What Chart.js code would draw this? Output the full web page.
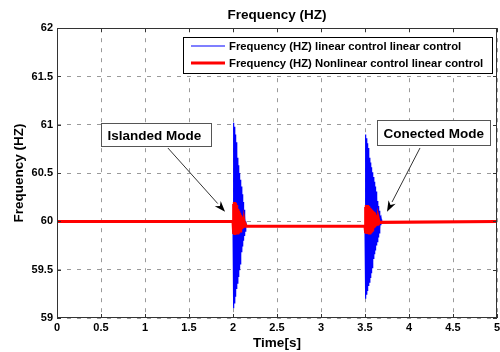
<!DOCTYPE html>
<html>
<head>
<meta charset="utf-8">
<title>Frequency (HZ)</title>
<script src="https://cdn.jsdelivr.net/npm/chart.js@4.4.1/dist/chart.umd.min.js"></script>
<style>
  html, body { margin: 0; padding: 0; background: #fff; }
  #wrap { width: 500px; height: 352px; }
</style>
</head>
<body>
<div id="wrap"><canvas id="freqChart" width="500" height="352"></canvas></div>
<script>
// Frecuencia de la red con control lineal y no lineal (modo isla a t=2 s, reconexión a t=3.5 s)
const xTicks = [0, 0.5, 1, 1.5, 2, 2.5, 3, 3.5, 4, 4.5, 5];
const yTicks = [59, 59.5, 60, 60.5, 61, 61.5, 62];

const seriesNames = [
    'Frequency (HZ) linear control linear control',
    'Frequency (HZ) Nonlinear control linear control'
];

// control lineal
const blueTime = [
    0,
    2.000, 2.005, 2.010, 2.015, 2.020, 2.025, 2.030, 2.035, 2.040, 2.045,
    2.050, 2.055, 2.060, 2.065, 2.070, 2.075, 2.080, 2.085, 2.090, 2.095,
    2.100, 2.105, 2.110, 2.115, 2.120, 2.125, 2.130, 2.135, 2.140, 2.145, 2.150,
    3.500, 3.505, 3.510, 3.515, 3.520, 3.525, 3.530, 3.535, 3.540, 3.545,
    3.550, 3.555, 3.560, 3.565, 3.570, 3.575, 3.580, 3.585, 3.590, 3.595,
    3.600, 3.605, 3.610, 3.615, 3.620, 3.625, 3.630, 3.635, 3.640, 3.645,
    3.650, 3.655, 3.660, 3.665, 3.670, 3.675, 3.680, 3.685, 3.690,
    5
];
const blueHz = [
    60,
    60.00, 61.02, 59.10, 60.98, 59.15, 60.90, 59.22, 60.82, 59.30, 60.74,
    59.36, 60.66, 59.43, 60.58, 59.50, 60.50, 59.56, 60.43, 59.62, 60.36,
    59.68, 60.28, 59.74, 60.20, 59.80, 60.12, 59.85, 60.06, 59.90, 60.00, 59.95,
    59.95, 60.90, 59.20, 60.86, 59.24, 60.81, 59.28, 60.76, 59.33, 60.71,
    59.37, 60.66, 59.42, 60.61, 59.47, 60.56, 59.52, 60.51, 59.56, 60.46,
    59.61, 60.41, 59.66, 60.36, 59.70, 60.31, 59.75, 60.26, 59.79, 60.21,
    59.84, 60.16, 59.88, 60.11, 59.92, 60.06, 59.96, 60.02, 59.99,
    60
];

// control no lineal
const redTime = [
    0,
    2.000, 2.005, 2.010, 2.015, 2.020, 2.025, 2.030, 2.035, 2.040, 2.045,
    2.050, 2.055, 2.060, 2.065, 2.070, 2.075, 2.080, 2.085, 2.090, 2.095,
    2.100, 2.105, 2.110, 2.115, 2.120, 2.125, 2.130, 2.135, 2.140, 2.145, 2.150,
    3.500, 3.505, 3.510, 3.515, 3.520, 3.525, 3.530, 3.535, 3.540, 3.545,
    3.550, 3.555, 3.560, 3.565, 3.570, 3.575, 3.580, 3.585, 3.590, 3.595,
    3.600, 3.605, 3.610, 3.615, 3.620, 3.625, 3.630, 3.635, 3.640, 3.645,
    3.650, 3.655, 3.660,
    5
];
const redHz = [
    60,
    60.00, 60.18, 59.87, 60.20, 59.86, 60.19, 59.87, 60.17, 59.88, 60.15,
    59.88, 60.13, 59.89, 60.11, 59.90, 60.09, 59.90, 60.07, 59.91, 60.05,
    59.92, 60.03, 59.93, 60.01, 59.94, 59.99, 59.94, 59.97, 59.95, 59.96, 59.95,
    59.95, 60.15, 59.88, 60.17, 59.87, 60.17, 59.87, 60.16, 59.88, 60.15,
    59.88, 60.14, 59.89, 60.13, 59.90, 60.12, 59.91, 60.11, 59.92, 60.10,
    59.93, 60.09, 59.94, 60.07, 59.95, 60.05, 59.96, 60.04, 59.97, 60.02,
    59.98, 60.01, 59.99,
    60
];

const FONT = "'Liberation Sans', Arial, Helvetica, sans-serif";
Chart.defaults.color = '#000';
Chart.defaults.font.family = FONT;
Chart.defaults.font.weight = 'bold';

const toPoints = (xs, ys) => xs.map((t, i) => ({ x: t, y: ys[i] }));

// etiquetas con flecha
const notes = [
    { text: 'Islanded Mode', box: [0.5, 61.02], w: 110, h: 23, tail: [1.26, 60.76], tip: [1.91, 60.10] },
    { text: 'Conected Mode', box: [3.636, 61.05], w: 113, h: 25, tail: [4.125, 60.76], tip: [3.75, 60.10] }
];

// marco estilo matlab: caja, ticks hacia dentro, leyenda y anotaciones
const matlabFrame = {
    id: 'matlabFrame',
    afterDatasetsDraw(chart) {
        const { ctx, scales: { x, y } } = chart;
        ctx.save();
        ctx.setLineDash([]);

        // anotaciones
        ctx.font = 'bold 13.5px ' + FONT;
        ctx.textBaseline = 'middle';
        ctx.textAlign = 'left';
        notes.forEach(n => {
            const bx = Math.round(x.getPixelForValue(n.box[0])) + 0.5;
            const by = Math.round(y.getPixelForValue(n.box[1])) + 0.5;
            ctx.fillStyle = '#fff';
            ctx.fillRect(bx, by, n.w, n.h);
            ctx.strokeStyle = '#555';
            ctx.lineWidth = 1;
            ctx.strokeRect(bx, by, n.w, n.h);
            ctx.fillStyle = '#000';
            ctx.fillText(n.text, bx + 6, by + n.h / 2 + 1);

            const x0 = x.getPixelForValue(n.tail[0]), y0 = y.getPixelForValue(n.tail[1]);
            const x1 = x.getPixelForValue(n.tip[0]), y1 = y.getPixelForValue(n.tip[1]);
            const ang = Math.atan2(y1 - y0, x1 - x0);
            const len = 11, half = 4;
            const bxA = x1 - len * Math.cos(ang), byA = y1 - len * Math.sin(ang);
            ctx.strokeStyle = '#333';
            ctx.beginPath();
            ctx.moveTo(x0, y0);
            ctx.lineTo(bxA, byA);
            ctx.stroke();
            ctx.fillStyle = '#000';
            ctx.beginPath();
            ctx.moveTo(x1, y1);
            ctx.lineTo(bxA + half * Math.sin(ang), byA - half * Math.cos(ang));
            ctx.lineTo(x1 - 0.7 * len * Math.cos(ang), y1 - 0.7 * len * Math.sin(ang));
            ctx.lineTo(bxA - half * Math.sin(ang), byA + half * Math.cos(ang));
            ctx.closePath();
            ctx.fill();
        });

        // leyenda
        const lx = 183.5, ly = 37.5, lw = 309, lh = 36;
        ctx.fillStyle = '#fff';
        ctx.fillRect(lx, ly, lw, lh);
        ctx.strokeStyle = '#000';
        ctx.lineWidth = 1;
        ctx.strokeRect(lx, ly, lw, lh);
        ctx.font = 'bold 11.3px ' + FONT;
        chart.data.datasets.forEach((ds, i) => {
            const rowY = 46 + i * 17;
            ctx.strokeStyle = ds.borderColor;
            ctx.lineWidth = ds.borderWidth;
            ctx.beginPath();
            ctx.moveTo(191, rowY);
            ctx.lineTo(225, rowY);
            ctx.stroke();
            ctx.fillStyle = '#000';
            ctx.fillText(ds.label, 229, rowY + 1);
        });
        ctx.restore();
    },
    afterDraw(chart) {
        const { ctx, chartArea: a, scales: { x, y } } = chart;
        ctx.save();
        ctx.setLineDash([]);
        ctx.strokeStyle = '#333';
        ctx.lineWidth = 1;
        ctx.beginPath();
        x.ticks.forEach(t => {
            const px = Math.round(x.getPixelForValue(t.value)) + 0.5;
            ctx.moveTo(px, a.top); ctx.lineTo(px, a.top + 4);
            ctx.moveTo(px, a.bottom); ctx.lineTo(px, a.bottom - 4);
        });
        y.ticks.forEach(t => {
            const py = Math.round(y.getPixelForValue(t.value)) + 0.5;
            ctx.moveTo(a.left, py); ctx.lineTo(a.left + 4, py);
            ctx.moveTo(a.right, py); ctx.lineTo(a.right - 4, py);
        });
        ctx.stroke();
        ctx.strokeRect(Math.round(a.left) + 0.5, Math.round(a.top) + 0.5,
            Math.round(a.width) - 1, Math.round(a.height) - 1);
        ctx.restore();
    }
};

const ctx = document.getElementById('freqChart').getContext('2d');
new Chart(ctx, {
    type: 'line',
    data: {
        datasets: [
            {
                label: seriesNames[0],
                data: toPoints(blueTime, blueHz),
                borderColor: '#0000ff',
                borderWidth: 1.2,
                pointRadius: 0,
                tension: 0,
                order: 2
            },
            {
                label: seriesNames[1],
                data: toPoints(redTime, redHz),
                borderColor: '#ff0000',
                borderWidth: 3,
                pointRadius: 0,
                tension: 0,
                order: 1
            }
        ]
    },
    options: {
        responsive: false,
        animation: false,
        layout: { padding: { left: 0, right: 3, top: 0, bottom: 0 } },
        plugins: {
            legend: { display: false },
            tooltip: { enabled: false },
            title: {
                display: true,
                text: 'Frequency (HZ)',
                fullSize: false,
                font: { size: 13.5, weight: 'bold' },
                padding: { top: 7, bottom: 5 }
            }
        },
        scales: {
            x: {
                type: 'linear',
                min: 0,
                max: 5,
                afterBuildTicks: s => { s.ticks = xTicks.map(v => ({ value: v })); },
                afterFit: s => { s.height = 34; s.paddingLeft = 0; s.paddingRight = 0; },
                ticks: { padding: 3, font: { size: 11, weight: 'bold' }, maxRotation: 0, callback: v => String(v) },
                grid: { color: '#9a9a9a', drawTicks: false, tickLength: 0 },
                border: { display: false, dash: [4, 6] },
                title: {
                    display: true,
                    text: 'Time[s]',
                    font: { size: 13.5, weight: 'bold' },
                    padding: { top: 0, bottom: 1 }
                }
            },
            y: {
                min: 59,
                max: 62,
                afterBuildTicks: s => { s.ticks = yTicks.map(v => ({ value: v })); },
                afterFit: s => { s.width = 57; s.paddingTop = 0; s.paddingBottom = 0; },
                ticks: { padding: 4, font: { size: 11, weight: 'bold' }, callback: v => String(v) },
                grid: { color: '#9a9a9a', drawTicks: false, tickLength: 0 },
                border: { display: false, dash: [4, 6] },
                title: {
                    display: true,
                    text: 'Frequency (HZ)',
                    font: { size: 13.5, weight: 'bold' },
                    padding: { top: 11, bottom: 0 }
                }
            }
        }
    },
    plugins: [matlabFrame]
});
</script>
</body>
</html>
